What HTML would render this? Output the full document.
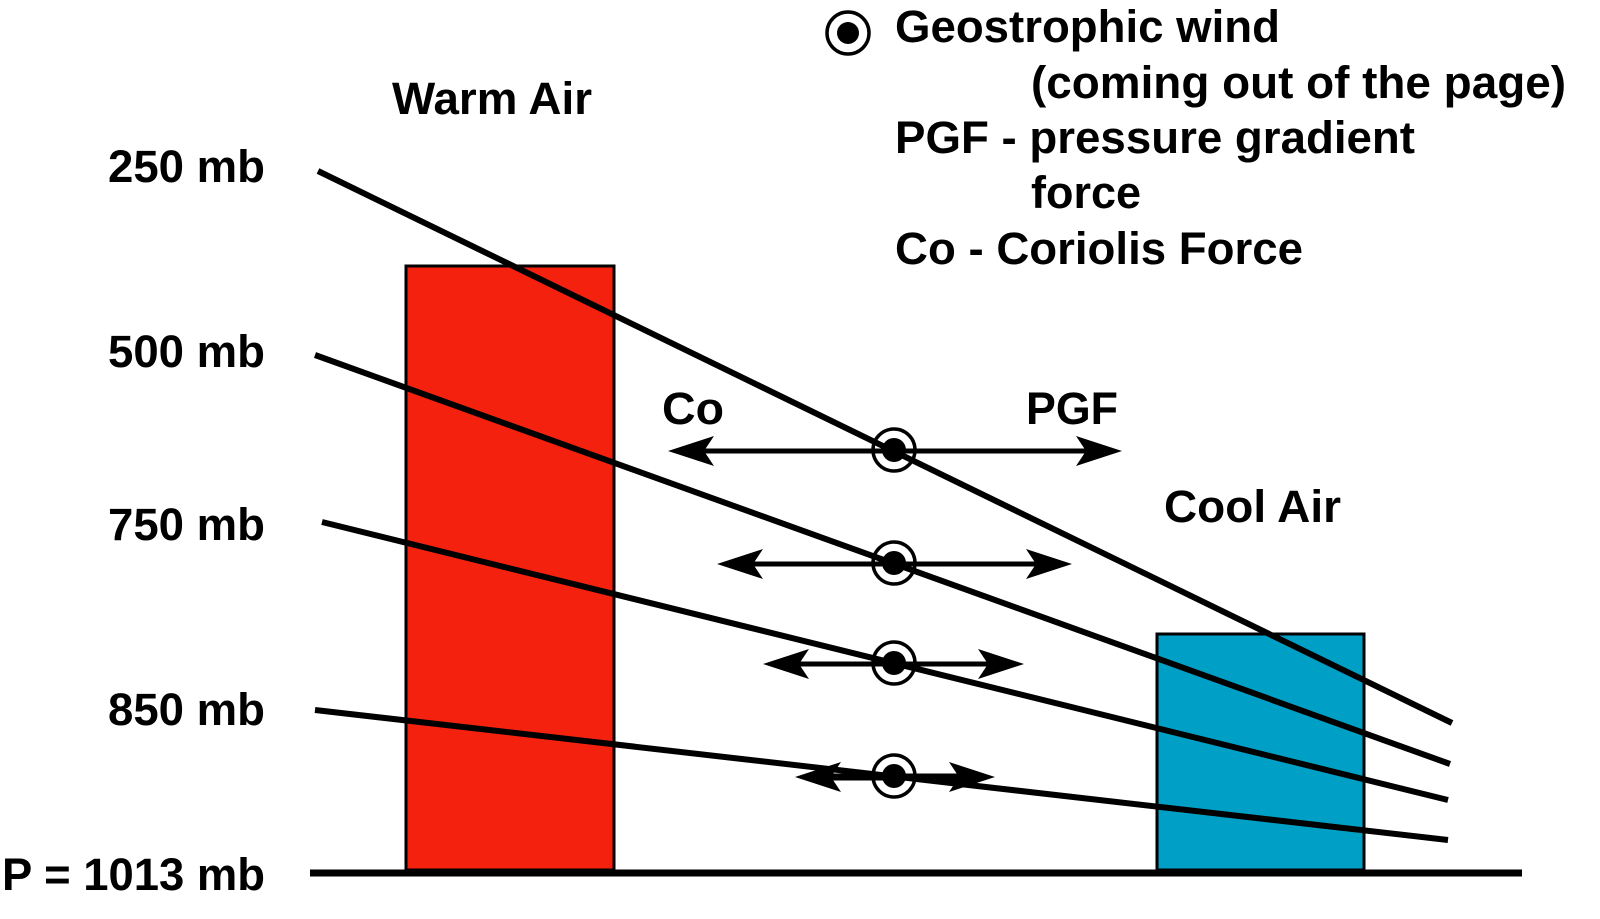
<!DOCTYPE html>
<html><head><meta charset="utf-8"><style>
html,body{margin:0;padding:0;background:#fff;}
svg{display:block;}
text{font-family:"Liberation Sans",Arial,sans-serif;font-weight:bold;font-size:45px;fill:#000;}
</style></head><body>
<svg width="1600" height="919" viewBox="0 0 1600 919" xmlns="http://www.w3.org/2000/svg">
<rect x="406" y="266" width="208" height="604" fill="#f5210f" stroke="#000" stroke-width="3"/>
<rect x="1157" y="634" width="207" height="236" fill="#00a0c6" stroke="#000" stroke-width="3"/>
<line x1="310" y1="873" x2="1522" y2="873" stroke="#000" stroke-width="7"/>
<g stroke="#000" stroke-width="6" stroke-linecap="butt">
<line x1="318" y1="171" x2="1452" y2="723"/>
<line x1="315" y1="355" x2="1450" y2="764"/>
<line x1="322" y1="522" x2="1448" y2="800"/>
<line x1="315" y1="710" x2="1448" y2="840"/>
</g>
<g stroke="#000" stroke-width="5">
<line x1="690" y1="451" x2="1100" y2="451"/>
<line x1="740" y1="564" x2="1050" y2="564"/>
<line x1="785" y1="664" x2="1002" y2="664"/>
<line x1="815" y1="777" x2="975" y2="777" stroke-width="7"/>
</g>
<g fill="#000">
<path d="M668,451 L714,436 L704,451 L714,466 Z"/>
<path d="M1122,451 L1076,436 L1086,451 L1076,466 Z"/>
<path d="M717,564 L763,549 L753,564 L763,579 Z"/>
<path d="M1072,564 L1026,549 L1036,564 L1026,579 Z"/>
<path d="M763,664 L809,649 L799,664 L809,679 Z"/>
<path d="M1024,664 L978,649 L988,664 L978,679 Z"/>
<path d="M795,777 L841,762 L831,777 L841,792 Z"/>
<path d="M995,777 L949,762 L959,777 L949,792 Z"/>
</g>
<g>
<circle cx="894" cy="450" r="21" fill="none" stroke="#000" stroke-width="3.5"/><circle cx="894" cy="450" r="12" fill="#000"/>
<circle cx="894" cy="563" r="21" fill="none" stroke="#000" stroke-width="3.5"/><circle cx="894" cy="563" r="12" fill="#000"/>
<circle cx="894" cy="663" r="21" fill="none" stroke="#000" stroke-width="3.5"/><circle cx="894" cy="663" r="12" fill="#000"/>
<circle cx="894" cy="776" r="21" fill="none" stroke="#000" stroke-width="3.5"/><circle cx="894" cy="776" r="12" fill="#000"/>
<circle cx="848" cy="33" r="21" fill="none" stroke="#000" stroke-width="3.5"/><circle cx="848" cy="33" r="11" fill="#000"/>
</g>
<g lengthAdjust="spacingAndGlyphs">
<text x="392" y="114" textLength="200" lengthAdjust="spacingAndGlyphs">Warm Air</text>
<text x="108" y="182" textLength="157" lengthAdjust="spacingAndGlyphs">250 mb</text>
<text x="108" y="367" textLength="157" lengthAdjust="spacingAndGlyphs">500 mb</text>
<text x="108" y="540" textLength="157" lengthAdjust="spacingAndGlyphs">750 mb</text>
<text x="108" y="725" textLength="157" lengthAdjust="spacingAndGlyphs">850 mb</text>
<text x="2" y="890" textLength="263" lengthAdjust="spacingAndGlyphs">P = 1013 mb</text>
<text x="895" y="42" textLength="385" lengthAdjust="spacingAndGlyphs">Geostrophic wind</text>
<text x="1031" y="98" textLength="535" lengthAdjust="spacingAndGlyphs">(coming out of the page)</text>
<text x="895" y="153" textLength="520" lengthAdjust="spacingAndGlyphs">PGF - pressure gradient</text>
<text x="1031" y="208" textLength="110" lengthAdjust="spacingAndGlyphs">force</text>
<text x="895" y="264" textLength="408" lengthAdjust="spacingAndGlyphs">Co - Coriolis Force</text>
<text x="662" y="424" textLength="62" lengthAdjust="spacingAndGlyphs">Co</text>
<text x="1026" y="424" textLength="92" lengthAdjust="spacingAndGlyphs">PGF</text>
<text x="1164" y="522" textLength="177" lengthAdjust="spacingAndGlyphs">Cool Air</text>
</g>
</svg>
</body></html>
